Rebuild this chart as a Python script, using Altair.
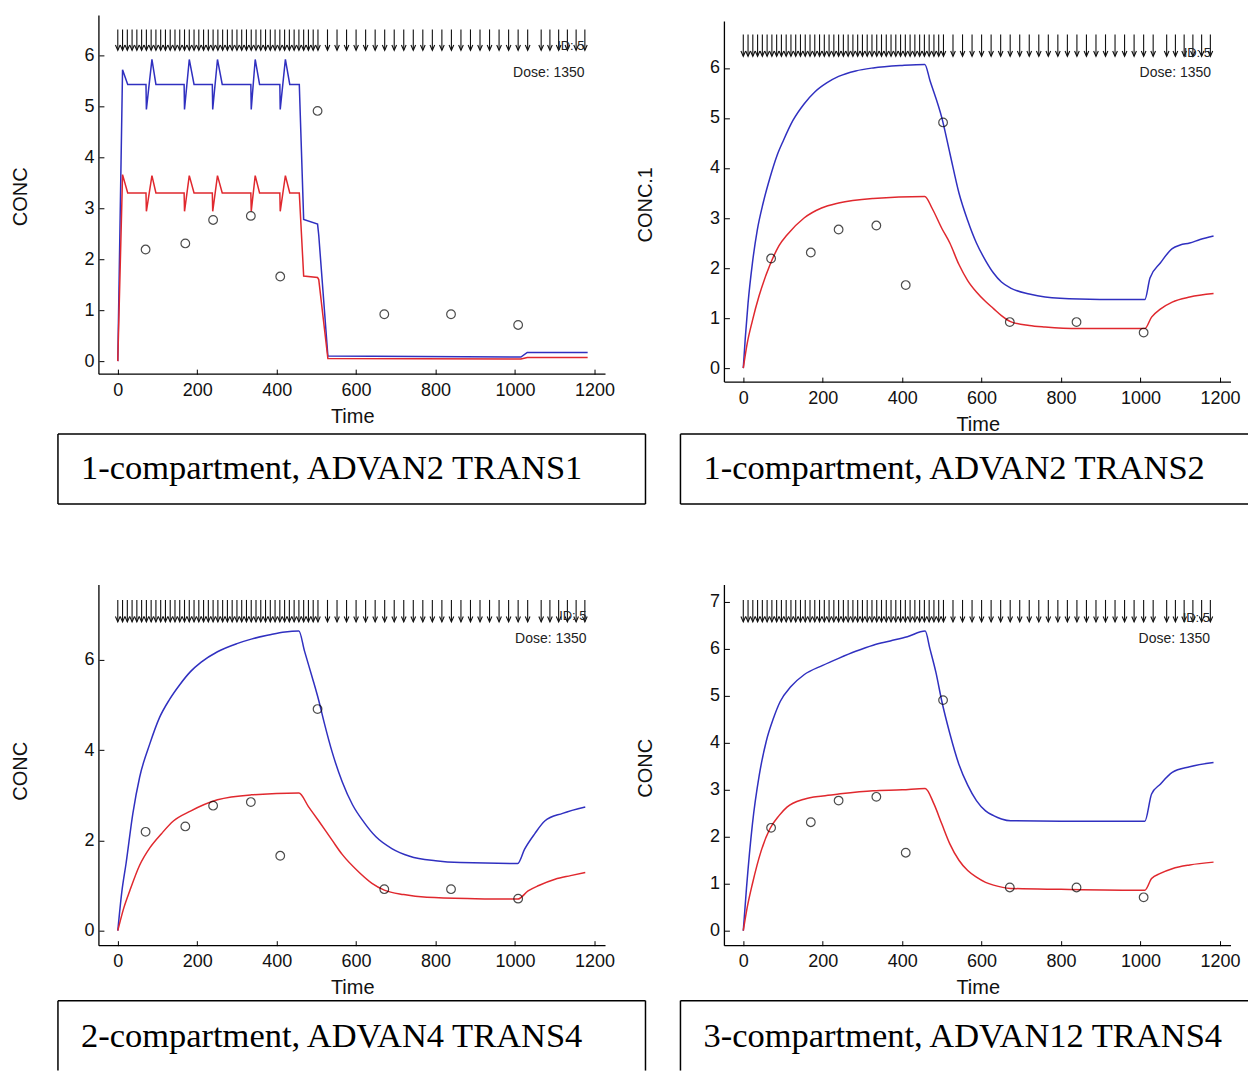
import altair as alt
import pandas as pd

# ---------------- data ----------------
obs_time = [70, 170, 240, 335, 409, 503, 671, 839, 1008]
obs_conc = [2.19, 2.31, 2.77, 2.85, 1.66, 4.91, 0.92, 0.92, 0.71]

dose_time = [0, 12, 24, 36, 48, 60, 72, 84, 96, 108, 120, 132, 144, 156, 168, 180,
             192, 204, 216, 228, 240, 252, 264, 276, 288, 300, 312, 324, 336, 348,
             360, 372, 384, 396, 408, 420, 432, 444, 456, 468, 480, 492, 504,
             528, 552, 576, 600, 624, 648, 672, 696, 720, 744, 768, 792, 816, 840,
             864, 888, 912, 936, 960, 984, 1008, 1032,
             1066, 1088, 1110, 1132, 1154, 1176]

# panel 1: 1-compartment, ADVAN2 TRANS1
p1_time = [0, 12, 25, 71, 72, 86, 96, 167, 168, 180, 192, 238, 239, 251, 263, 335, 336,
           346, 357, 408, 409, 422, 433, 457, 468, 503, 506, 529, 1015, 1031, 1183]
p1_blue = [0, 5.72, 5.43, 5.43, 4.94, 5.92, 5.43, 5.43, 4.94, 5.92, 5.43, 5.43, 4.94,
           5.92, 5.43, 5.43, 4.94, 5.92, 5.43, 5.43, 4.94, 5.92, 5.43, 5.43, 2.78, 2.69,
           2.47, 0.10, 0.08, 0.17, 0.17]
p1_red = [0, 3.66, 3.30, 3.30, 2.94, 3.64, 3.30, 3.30, 2.94, 3.64, 3.30, 3.30, 2.94,
          3.64, 3.30, 3.30, 2.94, 3.64, 3.30, 3.30, 2.94, 3.64, 3.30, 3.30, 1.67, 1.64,
          1.60, 0.05, 0.04, 0.07, 0.07]

# panel 2: 1-compartment, ADVAN2 TRANS2
p2_blue_t = [0, 5, 12, 23, 35, 50, 67, 85, 101, 125, 153, 180, 210, 240, 283, 327, 400,
             457, 470, 500, 520, 543, 565, 587, 610, 630, 650, 673, 720, 760, 846, 950,
             1011, 1024, 1050, 1080, 1100, 1124, 1150, 1184]
p2_blue = [0, 0.6, 1.3, 2.1, 2.75, 3.3, 3.8, 4.25, 4.55, 4.95, 5.28, 5.52, 5.7, 5.83,
           5.94, 6.0, 6.05, 6.07, 5.75, 5.0, 4.3, 3.5, 2.95, 2.5, 2.15, 1.9, 1.72, 1.6,
           1.48, 1.42, 1.38, 1.37, 1.37, 1.8, 2.1, 2.39, 2.46, 2.5, 2.57, 2.64]
p2_red_t = [0, 10, 23, 40, 67, 90, 110, 153, 197, 240, 327, 457, 475, 500, 520, 543, 565,
            587, 610, 630, 650, 673, 720, 760, 846, 1011, 1028, 1050, 1080, 1124, 1184]
p2_red = [0, 0.5, 0.95, 1.45, 2.06, 2.45, 2.66, 3.0, 3.2, 3.3, 3.39, 3.43, 3.2, 2.79,
          2.5, 2.07, 1.75, 1.52, 1.33, 1.19, 1.05, 0.93, 0.85, 0.82, 0.79, 0.79, 1.02,
          1.18, 1.32, 1.42, 1.49]

# panel 3: 2-compartment, ADVAN4 TRANS4
p3_blue_t = [0, 10, 21, 38, 55, 81, 105, 130, 156, 183, 210, 251, 300, 336, 380, 421,
             456, 470, 490, 506, 520, 540, 565, 591, 620, 650, 690, 735, 800, 863, 1007,
             1024, 1050, 1075, 1120, 1177]
p3_blue = [0, 0.85, 1.5, 2.6, 3.4, 4.15, 4.72, 5.12, 5.45, 5.74, 5.95, 6.18, 6.36, 6.46,
           6.55, 6.62, 6.64, 6.2, 5.6, 5.1, 4.6, 3.95, 3.3, 2.79, 2.4, 2.08, 1.82, 1.65,
           1.55, 1.51, 1.49, 1.8, 2.15, 2.43, 2.6, 2.74]
p3_red_t = [0, 15, 30, 55, 81, 110, 140, 183, 251, 336, 456, 480, 506, 540, 565, 608,
            640, 671, 720, 778, 900, 1007, 1033, 1060, 1101, 1140, 1177]
p3_red = [0, 0.5, 0.88, 1.45, 1.84, 2.15, 2.43, 2.65, 2.9, 3.01, 3.05, 2.75, 2.43, 2.0,
          1.69, 1.29, 1.05, 0.9, 0.8, 0.74, 0.71, 0.70, 0.88, 1.0, 1.14, 1.22, 1.29]

# panel 4: 3-compartment, ADVAN12 TRANS4
p4_blue_t = [0, 8, 23, 40, 58, 75, 93, 120, 153, 200, 240, 283, 327, 370, 413, 458, 470,
             485, 500, 520, 543, 565, 587, 610, 630, 650, 673, 800, 1011, 1028, 1050,
             1080, 1124, 1184]
p4_blue = [0, 0.9, 2.27, 3.3, 4.04, 4.5, 4.88, 5.2, 5.45, 5.65, 5.8, 5.95, 6.08, 6.17,
           6.26, 6.38, 6.0, 5.5, 4.88, 4.2, 3.54, 3.1, 2.77, 2.55, 2.45, 2.38, 2.34,
           2.33, 2.33, 2.91, 3.12, 3.37, 3.49, 3.58]
p4_red_t = [0, 10, 23, 45, 67, 90, 110, 153, 200, 240, 327, 400, 458, 480, 500, 520, 543,
            565, 587, 610, 630, 673, 800, 1011, 1028, 1050, 1080, 1124, 1184]
p4_red = [0, 0.5, 1.0, 1.7, 2.17, 2.45, 2.63, 2.8, 2.87, 2.91, 2.98, 3.0, 3.03, 2.7,
          2.27, 1.85, 1.5, 1.28, 1.14, 1.03, 0.97, 0.9, 0.88, 0.86, 1.11, 1.22, 1.32,
          1.4, 1.46]

x_ticks = [0, 200, 400, 600, 800, 1000, 1200]

# ---------------- styling ----------------
W = 507
XDOM = [-47.5, 1228]
TICK = 5
SANS = "Liberation Sans"
SERIF = "Liberation Serif"
BLUE = "#3030c0"
RED = "#e0282e"
INK = "#111111"


def seg(x1, y1, x2, y2, color="black", width=1.5):
    return alt.Chart(pd.DataFrame({"k": [0]})).mark_rule(
        color=color, strokeWidth=width
    ).encode(x=alt.value(x1), x2=alt.value(x2), y=alt.value(y1), y2=alt.value(y2))


def panel(cfg):
    H = cfg["H"]
    xaxis = alt.Axis(values=x_ticks, format="d", title="Time", domain=False, grid=False,
                     tickSize=TICK, offset=-TICK, tickColor="black", tickWidth=1,
                     labelPadding=7, labelFont=SANS, labelFontSize=18, labelColor=INK,
                     labelFlush=False, labelOverlap=False,
                     titleFont=SANS, titleFontSize=20, titleFontWeight="normal",
                     titleColor=INK, titleY=42 + TICK, titleBaseline="middle")
    yaxis = alt.Axis(values=cfg["yticks"], format="d", title=cfg["ytitle"], domain=False,
                     grid=False, tickSize=TICK, offset=-TICK, tickColor="black",
                     tickWidth=1, labelPadding=5, labelFont=SANS, labelFontSize=18,
                     labelColor=INK, labelFlush=False, labelOverlap=False,
                     titleFont=SANS, titleFontSize=20, titleFontWeight="normal",
                     titleColor=INK, titleX=cfg["ytitle_x"] - TICK,
                     titleY=cfg["ytitle_y"], titleBaseline="middle", titleAlign="center")
    xs = alt.Scale(domain=XDOM, nice=False, zero=False)
    ys = alt.Scale(domain=cfg["ydom"], nice=False, zero=False)
    X = alt.X("t:Q", scale=xs, axis=xaxis)
    Y = alt.Y("c:Q", scale=ys, axis=yaxis)

    def line(ts, cs, color):
        df = pd.DataFrame({"t": ts, "c": cs, "i": list(range(len(ts)))})
        return alt.Chart(df).mark_line(
            color=color, strokeWidth=1.5, interpolate=cfg["interp"]
        ).encode(x=X, y=Y, order="i:Q")

    obs = alt.Chart(pd.DataFrame({"t": obs_time, "c": obs_conc})).mark_point(
        shape="circle", filled=False, color="black", size=75, strokeWidth=1.2
    ).encode(x=X, y=Y)

    dose_df = pd.DataFrame({"t": dose_time})
    shafts = alt.Chart(dose_df).mark_rule(color="#111111", strokeWidth=1.1).encode(
        x=X, y=alt.value(cfg["arrow_top"]), y2=alt.value(cfg["arrow_tip"] - 0.5))
    heads = alt.Chart(dose_df).mark_point(
        shape="M-1,-1.3L0,1L1,-1.3", filled=False, color="#111111", size=22,
        strokeWidth=1.1, opacity=1
    ).encode(x=X, y=alt.value(cfg["arrow_tip"] - 2.4))

    id_text = alt.Chart(pd.DataFrame({"s": ["ID: 5"]})).mark_text(
        align="right", baseline="middle", font=SANS, fontSize=13, color="#222222"
    ).encode(x=alt.value(cfg["text_right"]), y=alt.value(cfg["id_y"]), text="s:N")
    dose_text = alt.Chart(pd.DataFrame({"s": ["Dose: 1350"]})).mark_text(
        align="right", baseline="middle", font=SANS, fontSize=14, color="#222222"
    ).encode(x=alt.value(cfg["text_right"]), y=alt.value(cfg["dose_y"]), text="s:N")

    caption = alt.Chart(pd.DataFrame({"s": [cfg["caption"]]})).mark_text(
        align="left", baseline="alphabetic", font=SERIF, fontSize=34.5, color="black"
    ).encode(x=alt.value(cfg["cap_x"]), y=alt.value(cfg["cap_y"]), text="s:N")

    layers = [
        seg(0, cfg["yaxis_top"], 0, H, color="black", width=1.3),
        seg(0, H, W, H, color="black", width=1.3),
        line(cfg["bt"], cfg["bc"], BLUE),
        line(cfg["rt"], cfg["rc"], RED),
        obs, shafts, heads, id_text, dose_text, caption,
    ]
    layers += [seg(*s) for s in cfg["box"]]
    if cfg.get("anchor"):
        layers.append(seg(-98, -14, -97, -14, color="white", width=1))
    return alt.layer(*layers).properties(width=W, height=H)


p1 = panel(dict(H=359, ydom=[-0.255, 6.784], yticks=[0, 1, 2, 3, 4, 5, 6], ytitle="CONC",
                ytitle_x=-78, ytitle_y=181, yaxis_top=0, arrow_top=14, arrow_tip=35,
                text_right=486, id_y=31, dose_y=58, interp="linear",
                bt=p1_time, bc=p1_blue, rt=p1_time, rc=p1_red,
                caption="1-compartment, ADVAN2 TRANS1", cap_x=-18, cap_y=464,
                box=[(-41, 419, 547, 419), (-41, 489, 547, 489),
                     (-41, 419, -41, 489), (547, 419, 547, 489)],
                anchor=True))
p2 = panel(dict(H=367, ydom=[-0.28, 7.049], yticks=[0, 1, 2, 3, 4, 5, 6], ytitle="CONC.1",
                ytitle_x=-79, ytitle_y=189, yaxis_top=6, arrow_top=19, arrow_tip=41,
                text_right=487, id_y=38, dose_y=58, interp="monotone",
                bt=p2_blue_t, bc=p2_blue, rt=p2_red_t, rc=p2_red,
                caption="1-compartment, ADVAN2 TRANS2", cap_x=-21, cap_y=464,
                box=[(-44, 419, 524, 419), (-44, 489, 524, 489), (-44, 419, -44, 489)]))
p3 = panel(dict(H=361, ydom=[-0.332, 7.66], yticks=[0, 2, 4, 6], ytitle="CONC",
                ytitle_x=-78, ytitle_y=186, yaxis_top=0, arrow_top=15, arrow_tip=37,
                text_right=488, id_y=31, dose_y=54, interp="monotone",
                bt=p3_blue_t, bc=p3_blue, rt=p3_red_t, rc=p3_red,
                caption="2-compartment, ADVAN4 TRANS4", cap_x=-18, cap_y=462,
                box=[(-41, 416, 547, 416), (-41, 416, -41, 486), (547, 416, 547, 486)]))
p4 = panel(dict(H=361, ydom=[-0.319, 7.362], yticks=[0, 1, 2, 3, 4, 5, 6, 7], ytitle="CONC",
                ytitle_x=-79, ytitle_y=183, yaxis_top=0, arrow_top=15, arrow_tip=37,
                text_right=486, id_y=33, dose_y=54, interp="monotone",
                bt=p4_blue_t, bc=p4_blue, rt=p4_red_t, rc=p4_red,
                caption="3-compartment, ADVAN12 TRANS4", cap_x=-21, cap_y=462,
                box=[(-44, 416, 524, 416), (-44, 416, -44, 486)]))

chart = alt.concat(p1, p2, p3, p4, columns=2, spacing={"row": 203, "column": 119},
                   bounds="flush", align="all").properties(
    padding=0, background="white"
).configure_view(stroke=None)

chart.save("out.html", embed_options={"renderer": "svg", "actions": False})
